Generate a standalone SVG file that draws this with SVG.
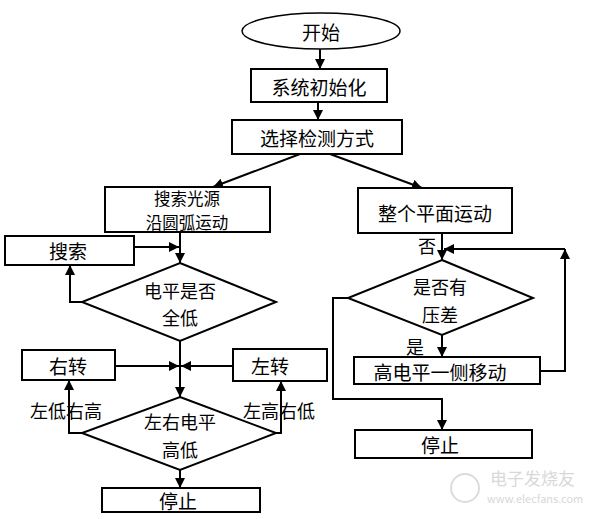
<svg xmlns="http://www.w3.org/2000/svg" width="595" height="519" viewBox="0 0 595 519">
<style>
.box{fill:#fff;stroke:#000;stroke-width:2}
.ln{fill:none;stroke:#000;stroke-width:2}
.t{font-family:"Noto Sans CJK SC","Noto Sans",sans-serif;font-size:19px;fill:#000;text-anchor:middle;dominant-baseline:central}
.t2{font-size:18px}
.t3{font-size:16.5px}
.lbl{font-family:"Noto Sans CJK SC","Noto Sans",sans-serif;font-size:18px;fill:#000;dominant-baseline:central}
.wm{font-family:"Noto Sans CJK SC","DejaVu Sans",sans-serif;fill:#d8d8d8}
</style>
<defs>
<marker id="ah" viewBox="0 0 10 10" refX="10" refY="5" markerWidth="5" markerHeight="5" orient="auto" markerUnits="strokeWidth">
<path d="M0,0 L10,5 L0,10 z" fill="#000"/>
</marker>
</defs>
<rect width="595" height="519" fill="#fff"/>
<g id="connectors">
<line class="ln" x1="320" y1="49" x2="320" y2="69" marker-end="url(#ah)"/>
<line class="ln" x1="318" y1="102" x2="318" y2="120" marker-end="url(#ah)"/>
<line class="ln" x1="300" y1="154" x2="213" y2="187" marker-end="url(#ah)" stroke-width="1.5"/>
<line class="ln" x1="330" y1="154" x2="422" y2="188" marker-end="url(#ah)" stroke-width="1.5"/>
<line class="ln" x1="180" y1="232" x2="180" y2="263" marker-end="url(#ah)"/>
<line class="ln" x1="134" y1="247" x2="179" y2="247" marker-end="url(#ah)" stroke-width="1.5"/>
<polyline class="ln" points="82,302 70,302 70,265" marker-end="url(#ah)"/>
<line class="ln" x1="180" y1="341" x2="180" y2="397" marker-end="url(#ah)"/>
<line class="ln" x1="115" y1="366" x2="179" y2="366" marker-end="url(#ah)" stroke-width="1.5"/>
<line class="ln" x1="233" y1="366" x2="181" y2="366" marker-end="url(#ah)" stroke-width="1.5"/>
<polyline class="ln" points="82,433 69,433 69,380" marker-end="url(#ah)"/>
<polyline class="ln" points="276,433 281,433 281,381" marker-end="url(#ah)"/>
<line class="ln" x1="180" y1="470" x2="180" y2="488" marker-end="url(#ah)"/>
<line class="ln" x1="442" y1="233" x2="442" y2="260" marker-end="url(#ah)"/>
<polyline class="ln" points="540,371 565,371 565,249" marker-end="url(#ah)"/>
<line class="ln" x1="565" y1="249" x2="444" y2="249" marker-end="url(#ah)" stroke-width="1.5"/>
<line class="ln" x1="442" y1="335" x2="442" y2="357" marker-end="url(#ah)"/>
<polyline class="ln" points="348,298 333,298 333,399 442,399 442,430" marker-end="url(#ah)"/>
<text class="lbl" x="30" y="410">左低右高</text>
<text class="lbl" x="243" y="410">左高右低</text>
<text class="lbl" x="418" y="245">否</text>
<text class="lbl" x="406" y="346">是</text>
</g>
<g id="start"><ellipse cx="321" cy="31" rx="79" ry="18" fill="#fff" stroke="#000" stroke-width="1.5"/><text class="t" x="321" y="31">开始</text></g>
<g id="init"><rect class="box" x="251" y="69" width="136" height="33"/><text class="t" x="319" y="86">系统初始化</text></g>
<g id="select"><rect class="box" x="232" y="120" width="170" height="34"/><text class="t" x="317" y="137">选择检测方式</text></g>
<g id="search-light"><rect class="box" x="105" y="187" width="165" height="45"/><text class="t t3" x="187" y="198">搜索光源</text><text class="t t3" x="187" y="222">沿圆弧运动</text></g>
<g id="plane"><rect class="box" x="358" y="188" width="154" height="45"/><text class="t" x="435" y="212">整个平面运动</text></g>
<g id="search"><rect class="box" x="5" y="236" width="129" height="29"/><text class="t" x="68" y="250">搜索</text></g>
<g id="d-low"><polygon class="box" points="180,263 276,302 180,341 82,302"/><text class="t t2" x="180" y="290">电平是否</text><text class="t t2" x="180" y="317">全低</text></g>
<g id="right-turn"><rect class="box" x="22" y="350" width="93" height="30"/><text class="t" x="68" y="365">右转</text></g>
<g id="left-turn"><rect class="box" x="233" y="349" width="94" height="32"/><text class="t" x="270" y="365">左转</text></g>
<g id="d-lr"><polygon class="box" points="180,397 276,433 180,470 82,433"/><text class="t t2" x="180" y="421">左右电平</text><text class="t t2" x="180" y="449">高低</text></g>
<g id="stop1"><rect class="box" x="102" y="488" width="158" height="24"/><text class="t" x="178" y="500">停止</text></g>
<g id="d-press"><polygon class="box" points="442,260 533,298 442,335 348,298"/><text class="t t2" x="440" y="286">是否有</text><text class="t t2" x="440" y="314">压差</text></g>
<g id="move"><rect class="box" x="354" y="357" width="186" height="27"/><text class="t" x="440" y="371">高电平一侧移动</text></g>
<g id="stop2"><rect class="box" x="355" y="430" width="177" height="28"/><text class="t" x="440" y="444">停止</text></g>
<g id="watermark">
<circle cx="465" cy="488" r="14" fill="none" stroke="#dcdcdc" stroke-width="2"/>
<text class="wm" x="490" y="485" font-size="17">电子发烧友</text>
<text class="wm" x="487" y="503" font-size="11">www.elecfans.com</text>
</g>
</svg>
